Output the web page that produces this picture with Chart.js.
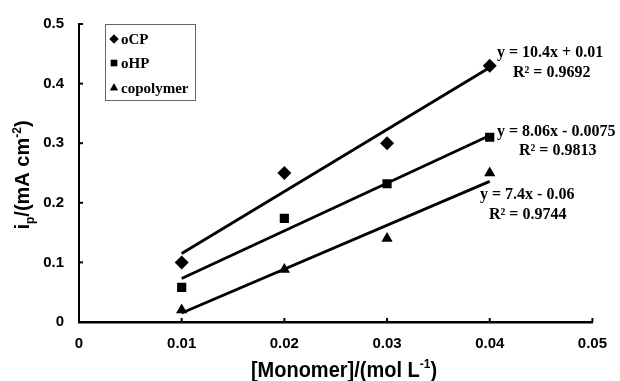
<!DOCTYPE html>
<html>
<head>
<meta charset="utf-8">
<script src="https://cdn.jsdelivr.net/npm/chart.js@4.4.1/dist/chart.umd.min.js"></script>
<style>
  html, body { margin: 0; padding: 0; background: #fff; }
  #wrap { width: 620px; height: 381px; }
</style>
</head>
<body>
<div id="wrap"><canvas id="ipChart" width="620" height="381"></canvas></div>
<script>
// concentrations (mol/L)
const concentrations = [0.01, 0.02, 0.03, 0.04];
const ocpValues = [0.10, 0.25, 0.30, 0.43];
const ohpValues = [0.058, 0.174, 0.232, 0.31];
const copolymerValues = [0.02, 0.088, 0.14, 0.25];

const trendEnds = [0.01, 0.04];
const ocpTrend = [0.115, 0.427];
const ohpTrend = [0.073, 0.313];
const copolymerTrend = [0.015, 0.236];

const seriesNames = ['oCP', 'oHP', 'copolymer'];
const equations = ['y = 10.4x + 0.01', 'y = 8.06x - 0.0075', 'y = 7.4x - 0.06'];
const rSquared = ['R² = 0.9692', 'R² = 0.9813', 'R² = 0.9744'];

const xTickLabels = ['0', '0.01', '0.02', '0.03', '0.04', '0.05'];
const yTickLabels = ['0', '0.1', '0.2', '0.3', '0.4', '0.5'];

const pointStyles = ['rectRot', 'rect', 'triangle'];
const pointSizes = [7, 6.5, 6.5];

function toPoints(xs, ys) {
    return xs.map((x, i) => ({ x: x, y: ys[i] }));
}

const pointSets = [ocpValues, ohpValues, copolymerValues].map((vals, i) => ({
    label: seriesNames[i],
    data: toPoints(concentrations, vals),
    showLine: false,
    pointStyle: pointStyles[i],
    pointRadius: pointSizes[i],
    pointBackgroundColor: '#000',
    pointBorderColor: '#000',
    pointBorderWidth: 0
}));

const trendSets = [ocpTrend, ohpTrend, copolymerTrend].map((vals, i) => ({
    label: seriesNames[i] + ' fit',
    data: toPoints(trendEnds, vals),
    showLine: true,
    borderColor: '#000',
    borderWidth: 2.8,
    pointRadius: 0
}));

// labels drawn on top of the plot: titles, legend box, fit equations
const overlay = {
    id: 'overlay',
    afterDraw(chart) {
        const ctx = chart.ctx;
        const xs = chart.scales.x, ys = chart.scales.y;
        const area = chart.chartArea;
        ctx.save();

        // inner tick marks
        ctx.strokeStyle = '#000';
        ctx.lineWidth = 2;
        xs.ticks.forEach(t => {
            const px = xs.getPixelForValue(t.value);
            ctx.beginPath();
            ctx.moveTo(px, area.bottom);
            ctx.lineTo(px, area.bottom - 4);
            ctx.stroke();
        });
        ys.ticks.forEach(t => {
            const py = ys.getPixelForValue(t.value);
            ctx.beginPath();
            ctx.moveTo(area.left, py);
            ctx.lineTo(area.left + 4, py);
            ctx.stroke();
        });

        // x title with superscript
        ctx.fillStyle = '#000';
        ctx.textBaseline = 'alphabetic';
        const big = 'bold 20px "Liberation Sans", Arial, sans-serif';
        const small = 'bold 12px "Liberation Sans", Arial, sans-serif';
        let parts = [['[Monomer]/(mol L', big, 0], ['-1', small, -8], [')', big, 0]];
        ctx.save();
        ctx.translate(344, 377);
        ctx.scale(1, 1.1);
        drawParts(ctx, parts, 0, 0);
        ctx.restore();

        // y title with subscript and superscript
        parts = [['i', big, 0], ['p', small, 5], ['/(mA cm', big, 0], ['-2', small, -8], [')', big, 0]];
        ctx.save();
        ctx.translate(29, 175);
        ctx.rotate(-Math.PI / 2);
        drawParts(ctx, parts, 0, 0);
        ctx.restore();

        // legend box
        ctx.strokeStyle = '#666';
        ctx.lineWidth = 1;
        ctx.strokeRect(105.5, 24.5, 90, 76);
        ctx.font = 'bold 15px "Liberation Serif", "Times New Roman", serif';
        ctx.textBaseline = 'middle';
        ctx.textAlign = 'left';
        const legendY = [39, 63, 88];
        seriesNames.forEach((name, i) => {
            ctx.fillStyle = '#000';
            Chart.helpers.drawPoint(ctx, { pointStyle: pointStyles[i], radius: 4.5, borderWidth: 0 }, 114, legendY[i]);
            ctx.fill();
            ctx.fillText(name, 121, legendY[i] + 1);
        });

        // fit equations
        ctx.font = 'bold 16px "Liberation Serif", "Times New Roman", serif';
        ctx.textAlign = 'left';
        const eqPos = [[497, 53], [497, 132], [480, 195]];
        const rPos = [[513, 73], [519, 151], [489, 215]];
        equations.forEach((eq, i) => {
            ctx.fillText(eq, eqPos[i][0], eqPos[i][1]);
            ctx.fillText(rSquared[i], rPos[i][0], rPos[i][1]);
        });
        ctx.restore();
    }
};

function drawParts(ctx, parts, cx, baseY) {
    let total = 0;
    parts.forEach(p => { ctx.font = p[1]; total += ctx.measureText(p[0]).width; });
    let x = cx - total / 2;
    ctx.textAlign = 'left';
    parts.forEach(p => {
        ctx.font = p[1];
        ctx.fillText(p[0], x, baseY + p[2]);
        x += ctx.measureText(p[0]).width;
    });
}

const tickFont = { family: '"Liberation Sans", Arial, sans-serif', size: 15, weight: 'bold' };

new Chart(document.getElementById('ipChart'), {
    type: 'scatter',
    data: { datasets: [...trendSets, ...pointSets] },
    options: {
        responsive: false,
        animation: false,
        layout: { padding: { top: 22, right: 22, left: 0, bottom: 0 } },
        plugins: {
            legend: { display: false },
            tooltip: { enabled: false }
        },
        scales: {
            x: {
                type: 'linear',
                min: 0,
                max: 0.05,
                ticks: {
                    stepSize: 0.01,
                    color: '#000',
                    font: tickFont,
                    padding: 13,
                    maxRotation: 0,
                    callback: (v, i) => xTickLabels[i]
                },
                grid: { display: false, drawTicks: false },
                border: { display: true, color: '#000', width: 2.5 },
                afterFit(scale) { scale.height = 59; }
            },
            y: {
                type: 'linear',
                min: 0,
                max: 0.5,
                ticks: {
                    stepSize: 0.1,
                    color: '#000',
                    font: tickFont,
                    padding: 15,
                    callback: (v, i) => yTickLabels[i]
                },
                grid: { display: false, drawTicks: false },
                border: { display: true, color: '#000', width: 2 },
                afterFit(scale) { scale.width = 79; }
            }
        }
    },
    plugins: [overlay]
});
</script>
</body>
</html>
